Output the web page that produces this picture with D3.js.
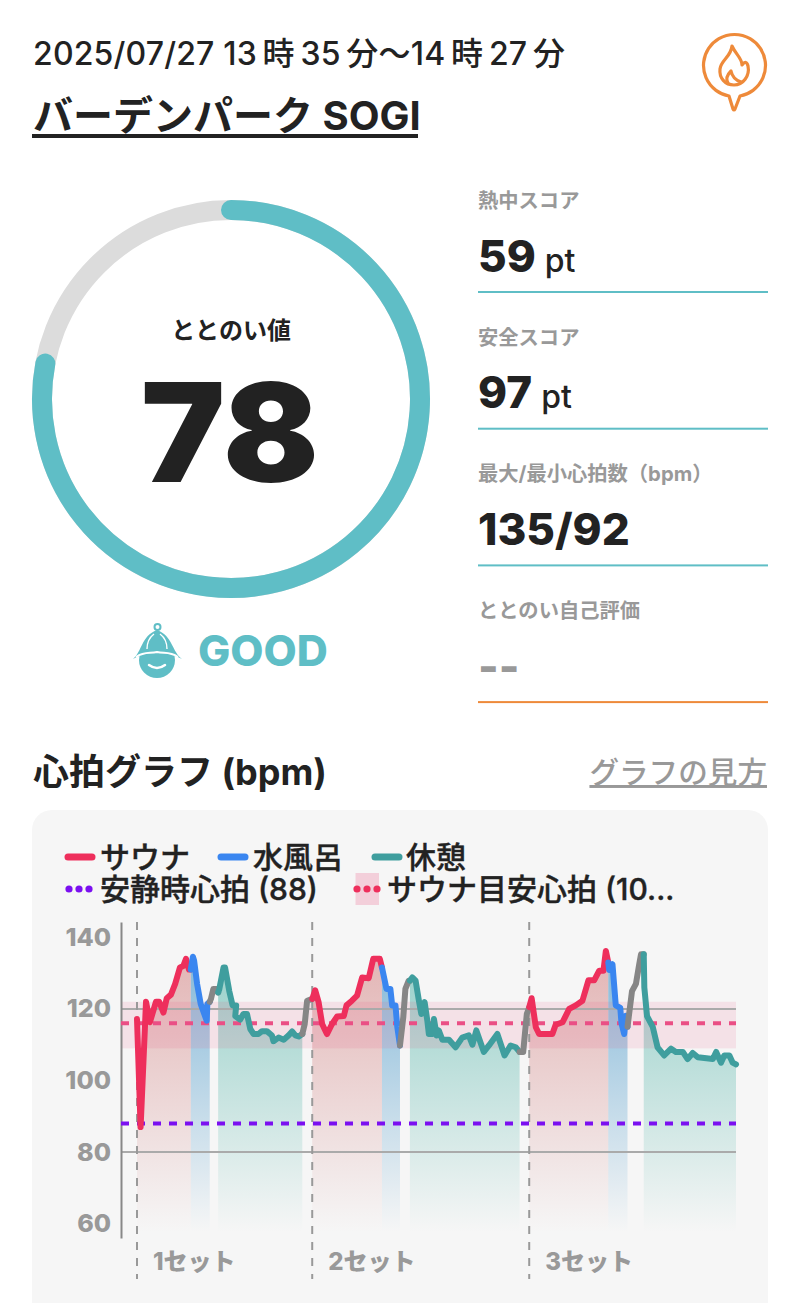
<!DOCTYPE html>
<html lang="ja">
<head>
<meta charset="utf-8">
<title>心拍グラフ</title>
<script src="https://cdn.jsdelivr.net/npm/d3@7"></script>
<style>
  html, body { margin: 0; background: #fff; }
  svg { display: block; }
  text { font-family: Inter, "Noto Sans CJK JP", sans-serif; fill: #222; }
</style>
</head>
<body>
<div id="chart"></div>
<script>
// values
const sessionTitle = "バーデンパーク SOGI";
const sessionTime = "2025/07/27 13\u2009時\u200935\u2009分～14\u2009時\u200927\u2009分";
const gaugeValue = 78;
const gaugeLabel = "ととのい値";
const gaugeRank = "GOOD";
const statLabels = ["熱中スコア", "安全スコア", "最大/最小心拍数（bpm）", "ととのい自己評価"];
const statValues = ["59", "97", "135/92", "--"];
const statUnits = ["pt", "pt", "", ""];
const yTicks = [60, 80, 100, 120, 140];
const gridTicks = [80, 120];
const restHeartRate = 88;
const saunaTarget = 116;
const saunaBand = [109, 122];
const setNames = ["1セット", "2セット", "3セット"];
const setStarts = [0, 58.3, 130.5];
const lastSample = 199.3;

// [sample number, bpm]
const sauna1 = [[0,117.2],[1.2,87],[3,122],[4.3,116.3],[6.3,122],[7.4,122],[8.8,119],[9.9,123],[11.3,124],[12.7,127],[14.3,131.6],[15.4,132],[16.3,134],[17.3,131],[17.9,131]];
const cold1 = [[17.9,131],[18.6,134.6],[19,133.5],[20,127],[21.2,121.4],[22,119.5],[23.2,116.7],[23.4,121.4],[24.2,122]];
const move1 = [[24.2,122],[24.6,122.8],[25.4,125.6],[26.5,125.6],[27,124.6]];
const rest1 = [[27,124.6],[27.4,125.6],[28.8,131.6],[29.3,131.6],[30.7,125],[31.8,121],[33,121],[32.7,118],[34.3,117],[35.4,118.6],[36.6,118.6],[37.7,114.4],[38.8,113],[40.4,113],[41.6,113.8],[43.2,113.8],[44.9,112.6],[45.4,111],[47.1,112],[48.8,111.4],[50.4,112.6],[51.6,113.7],[52.7,112.6],[53.8,112.3],[55,113]];
const move2 = [[55,113],[55.8,115.8],[56.6,122.3],[58.3,122.8]];
const sauna2 = [[58.3,122.8],[59.3,125.2],[60.4,122],[61.6,115.8],[63.2,113],[64.9,115.8],[66.6,117.9],[68.8,118],[69.7,121],[71.5,122.3],[73.2,123.7],[74.9,128.8],[77.1,128.6],[78.6,134],[80.8,134],[81.5,131.6]];
const cold2 = [[81.5,131.6],[83,125.6],[84.3,125.6],[84.9,121],[86,121],[86.6,115],[87.5,109.8]];
const move3 = [[87.5,109.8],[88.6,117.7],[89.3,125.6],[90.4,127.9],[90.8,127.9]];
const rest2 = [[90.8,127.9],[91.6,128.8],[92.7,127.9],[93.8,122.3],[94.6,118.6],[95.7,121.9],[96.6,116.7],[97.1,113],[98.4,113],[98.8,117.2],[99.7,112.6],[100.4,114],[101.6,111.4],[103.8,111.4],[106,109.3],[108.2,112],[110.4,112.6],[111.6,110],[112.9,114],[115.4,108],[117.1,109.8],[119.9,113],[122.3,107],[124.3,109.8],[126,109.3],[127.3,108]];
const move4 = [[127.3,108],[128.5,108],[129.7,118.6],[130.5,120.5]];
const sauna3 = [[130.5,120.5],[131.3,123],[132.7,114.9],[133.8,113],[138.2,113],[139.3,115.6],[141.6,116.3],[143.8,120],[146,121],[148.2,122.3],[150.2,128],[152.1,128],[153.8,130.7],[155.2,130.7],[156,136.2],[156.8,133]];
const cold3 = [[156.8,133],[157.1,130.9],[158.2,132.5],[159.3,121],[160.8,120.3],[161.2,116],[162.1,113],[162.7,118.1],[163.2,115]];
const move5 = [[163.2,115],[164.7,125],[166,127],[167.1,132.5],[167.7,135.3],[168.6,135.3]];
const rest3 = [[168.6,135.3],[168.8,126],[169.7,118],[171.6,115],[173.2,109.3],[175.4,107],[177.7,108.9],[179.3,108],[181.6,108],[183.2,106],[184.9,107.7],[186.6,106.5],[191.6,106],[192.7,108],[194.3,105],[195.4,107],[197.1,107],[198.2,105],[199.3,104.5]];

const legendRow1 = ["サウナ", "水風呂", "休憩"];
const legendRow2 = ["安静時心拍 (88)", "サウナ目安心拍 (10..."];

const colors = { sauna: "#ee2f5c", cold: "#3a86f0", rest: "#3f9e9e", move: "#868686" };
const teal = "#5fbec6";
const orange = "#ee8a3a";
const grey = "#999";

const width = 800, height = 1303;
const svg = d3.select("#chart").append("svg")
    .attr("width", width)
    .attr("height", height);

// --- header
svg.append("text").attr("x", 33).attr("y", 65)
    .attr("font-size", 32).attr("font-weight", 500)
    .attr("textLength", 532).attr("lengthAdjust", "spacing")
    .text(sessionTime);
svg.append("text").attr("x", 33).attr("y", 130)
    .attr("font-size", 40).attr("font-weight", 700).text(sessionTitle);
svg.append("rect").attr("x", 32).attr("y", 134).attr("width", 386).attr("height", 4).attr("fill", "#222");

// pin with flame
const pin = svg.append("g").attr("fill", "none").attr("stroke", orange).attr("stroke-width", 3.2)
    .attr("stroke-linejoin", "round").attr("stroke-linecap", "round");
pin.append("path").attr("d", "M729 96 A31 31 0 1 1 740 96 L735 109 Q734 111 733 109 Z");
pin.append("path").attr("d", "M732 46 C736 55 742 58 742 65 C745 61 747 62 748 66 C750 76 743 85 734 85 C725 85 719 78 720 69 C721 60 731 57 732 46 Z");
pin.append("path").attr("d", "M728 83 C725 78 728 74 731 71 C732 76 735 80 741 82");

// --- gauge
const gauge = svg.append("g").attr("transform", "translate(231,399)");
const gaugeAngle = d3.scaleLinear().domain([0, 100]).range([-Math.PI / 2, 1.5 * Math.PI]);
const ringPath = v => {
    const p = d3.path();
    p.arc(0, 0, 189, gaugeAngle(0), gaugeAngle(v));
    return p.toString();
};
gauge.append("path")
    .attr("d", ringPath(100))
    .attr("fill", "none").attr("stroke", "#dcdcdc").attr("stroke-width", 20);
gauge.append("path")
    .attr("d", ringPath(gaugeValue))
    .attr("fill", "none").attr("stroke", teal).attr("stroke-width", 20).attr("stroke-linecap", "round");
gauge.append("text").attr("y", -60).attr("text-anchor", "middle")
    .attr("font-size", 24).attr("font-weight", 700).text(gaugeLabel);
gauge.append("text").attr("x", -90).attr("y", 83)
    .attr("font-size", 137).attr("font-weight", 900)
    .attr("textLength", 178).attr("lengthAdjust", "spacingAndGlyphs")
    .text(gaugeValue);

// hat icon + rank
const hat = svg.append("g");
hat.append("circle").attr("cx", 157).attr("cy", 660).attr("r", 18).attr("fill", teal);
hat.append("path").attr("fill", teal)
    .attr("d", "M133 659 C142 652 141 636 157 630 C173 636 172 652 182 659 C172 654 166 654 157 654 C148 654 142 654 133 659 Z");
hat.append("path").attr("fill", "none").attr("stroke", "#fff").attr("stroke-width", 2)
    .attr("d", "M136 657 C145 651 150 654 157 652 C164 654 169 651 178 657");
hat.append("path").attr("fill", "none").attr("stroke", "#fff").attr("stroke-width", 1.4)
    .attr("d", "M147 649 C147 642 150 637 154 634 M167 649 C167 642 164 637 160 634");
hat.append("circle").attr("cx", 157.5).attr("cy", 627).attr("r", 3).attr("fill", "none").attr("stroke", teal).attr("stroke-width", 2);
hat.append("path").attr("d", "M149 665 Q157 671 165 665").attr("fill", "none").attr("stroke", "#fff").attr("stroke-width", 2.5).attr("stroke-linecap", "round");
svg.append("text").attr("x", 198).attr("y", 666)
    .attr("font-size", 43).attr("font-weight", 800).style("fill", teal).text(gaugeRank);

// --- stats column
const statY = d3.scaleLinear().domain([0, 1]).range([0, 136.7]);
const stats = svg.selectAll(".stat").data(statLabels).enter().append("g")
    .attr("class", "stat")
    .attr("transform", (d, i) => `translate(478,${statY(i)})`);
stats.append("text").attr("y", 208)
    .attr("font-size", 20.3).attr("font-weight", 700).style("fill", grey).text(d => d);
stats.append("text").attr("y", 271.5)
    .attr("font-size", 44).attr("font-weight", 800)
    .style("fill", (d, i) => statValues[i] === "--" ? grey : "#222")
    .text((d, i) => statValues[i])
    .append("tspan").attr("dx", 9).attr("font-size", 32).attr("font-weight", 500)
    .text((d, i) => statUnits[i]);
stats.append("rect").attr("y", 291).attr("width", 290).attr("height", 2)
    .attr("fill", (d, i) => i === 3 ? orange : teal);

// --- chart heading
svg.append("text").attr("x", 33).attr("y", 785)
    .attr("font-size", 36).attr("font-weight", 700).text("心拍グラフ (bpm)");
svg.append("text").attr("x", 767).attr("y", 783).attr("text-anchor", "end")
    .attr("font-size", 29.6).attr("font-weight", 500).style("fill", grey)
    .attr("text-decoration", "underline").text("グラフの見方");

// --- panel
svg.append("rect").attr("x", 32).attr("y", 810).attr("width", 736).attr("height", 520)
    .attr("rx", 20).attr("fill", "#f6f6f6");

// --- legend
const legendLineX = [65, 218, 372];
const legendTextX = [100, 253, 406];
legendRow1.forEach((name, i) => {
    svg.append("line").attr("x1", legendLineX[i] + 3).attr("x2", legendLineX[i] + 27)
        .attr("y1", 857).attr("y2", 857)
        .attr("stroke", [colors.sauna, colors.cold, colors.rest][i])
        .attr("stroke-width", 7).attr("stroke-linecap", "round");
    svg.append("text").attr("x", legendTextX[i]).attr("y", 868)
        .attr("font-size", 30).attr("font-weight", 500)
        .attr("stroke", "#222").attr("stroke-width", 0.4).text(name);
});
svg.append("rect").attr("x", 355.5).attr("y", 873).attr("width", 23.5).attr("height", 32)
    .attr("fill", "#f3cfda");
[[69, "#7b10f0"], [79, "#7b10f0"], [89, "#7b10f0"], [357, colors.sauna], [367, colors.sauna], [377, colors.sauna]]
    .forEach(([cx, c]) => {
        svg.append("circle").attr("cx", cx).attr("cy", 889).attr("r", 3.6).attr("fill", c);
    });
legendRow2.forEach((name, i) => {
    svg.append("text").attr("x", [100, 387][i]).attr("y", 900)
        .attr("font-size", 30).attr("font-weight", 500)
        .attr("stroke", "#222").attr("stroke-width", 0.4).text(name);
});

// --- plot
const x = d3.scaleLinear().domain([0, lastSample]).range([137, 736]);
const y = d3.scaleLinear().domain([56, 144.3]).range([1238, 922]);
const plot = svg.append("g");
const fadeBottom = 1232;

const defs = svg.append("defs");
[["sauna", "#c55151"], ["cold", "#559fcd"], ["rest", "#6ec0b6"]].forEach(([id, c]) => {
    const g = defs.append("linearGradient").attr("id", "fade-" + id)
        .attr("gradientUnits", "userSpaceOnUse")
        .attr("x1", 0).attr("x2", 0).attr("y1", y(140)).attr("y2", fadeBottom);
    g.append("stop").attr("offset", "0%").attr("stop-color", c).attr("stop-opacity", id === "sauna" ? 0.42 : 0.75);
    g.append("stop").attr("offset", "100%").attr("stop-color", c).attr("stop-opacity", 0);
});

const area = d3.area().x(d => x(d[0])).y0(fadeBottom).y1(d => y(d[1]));
const line = d3.line().x(d => x(d[0])).y(d => y(d[1]));

const segments = [
    ["sauna", sauna1], ["cold", cold1], ["move", move1], ["rest", rest1], ["move", move2],
    ["sauna", sauna2], ["cold", cold2], ["move", move3], ["rest", rest2], ["move", move4],
    ["sauna", sauna3], ["cold", cold3], ["move", move5], ["rest", rest3]
];

plot.selectAll(".fill").data(segments.filter(s => s[0] !== "move")).enter().append("path")
    .attr("class", "fill")
    .attr("d", d => area(d[1]))
    .attr("fill", d => `url(#fade-${d[0]})`);

plot.append("rect")
    .attr("x", 121).attr("width", 736 - 121)
    .attr("y", y(saunaBand[1])).attr("height", y(saunaBand[0]) - y(saunaBand[1]))
    .attr("fill", "#ea4a78").attr("fill-opacity", 0.12);

plot.selectAll(".grid").data(gridTicks).enter().append("line")
    .attr("class", "grid")
    .attr("x1", 121).attr("x2", 736)
    .attr("y1", d => y(d)).attr("y2", d => y(d))
    .attr("stroke", "#aaa").attr("stroke-width", 2);

plot.selectAll(".setline").data(setStarts).enter().append("line")
    .attr("class", "setline")
    .attr("x1", d => x(d)).attr("x2", d => x(d))
    .attr("y1", 922).attr("y2", 1279)
    .attr("stroke", "#999").attr("stroke-width", 2).attr("stroke-dasharray", "8 8");

const yAxis = plot.append("g").attr("transform", "translate(121,0)")
    .call(d3.axisLeft(y).tickValues(yTicks).tickSize(0).tickPadding(10));
yAxis.select(".domain").attr("stroke", "#888").attr("stroke-width", 2);
yAxis.selectAll("text").attr("font-size", 25).attr("font-weight", 800)
    .attr("font-family", "Inter, sans-serif").style("fill", grey);

plot.append("line").attr("x1", 121).attr("x2", 736).attr("y1", y(saunaTarget)).attr("y2", y(saunaTarget))
    .attr("stroke", "#ea4f85").attr("stroke-width", 4).attr("stroke-dasharray", "8 8");
plot.append("line").attr("x1", 121).attr("x2", 736).attr("y1", y(restHeartRate)).attr("y2", y(restHeartRate))
    .attr("stroke", "#7b10f0").attr("stroke-width", 4).attr("stroke-dasharray", "8 8");

plot.selectAll(".seg").data(segments).enter().append("path")
    .attr("class", "seg")
    .attr("d", d => line(d[1]))
    .attr("fill", "none")
    .attr("stroke", d => colors[d[0]])
    .attr("stroke-width", 6)
    .attr("stroke-linejoin", "round")
    .attr("stroke-linecap", "round");

plot.selectAll(".setname").data(setNames).enter().append("text")
    .attr("class", "setname")
    .attr("x", (d, i) => x(setStarts[i]) + 16)
    .attr("y", 1270)
    .attr("font-size", 24).attr("font-weight", 800)
    .style("fill", grey)
    .text(d => d);
</script>
</body>
</html>
